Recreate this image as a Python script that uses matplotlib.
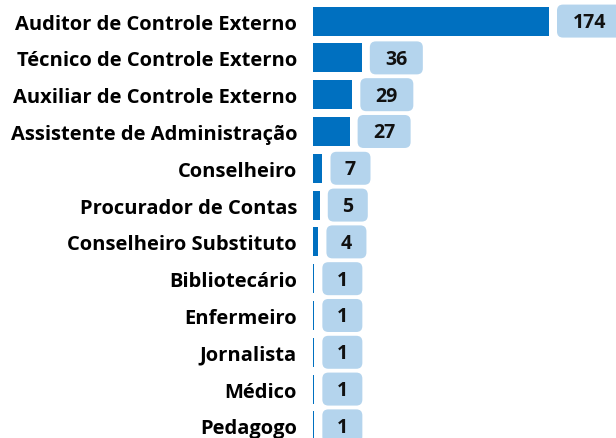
import matplotlib
matplotlib.use("Agg")
import matplotlib.pyplot as plt
import matplotlib.transforms as mtransforms
from matplotlib.patches import FancyBboxPatch

plt.rcParams["font.family"] = ["Open Sans", "DejaVu Sans"]

CARGOS = [
    "Auditor de Controle Externo",
    "Técnico de Controle Externo",
    "Auxiliar de Controle Externo",
    "Assistente de Administração",
    "Conselheiro",
    "Procurador de Contas",
    "Conselheiro Substituto",
    "Bibliotecário",
    "Enfermeiro",
    "Jornalista",
    "Médico",
    "Pedagogo",
]
QTD = [174, 36, 29, 27, 7, 5, 4, 1, 1, 1, 1, 1]

BAR_COLOR = "#0070c0"
BOX_COLOR = "#b4d4ed"

W, H, DPI = 616, 439, 100
fig = plt.figure(figsize=(W / DPI, H / DPI), dpi=DPI)

# eixo em pixels: começa em x=313, linhas a cada ~36.8 px (parte de baixo cortada)
left_px, top_px = 313, 0
row_px = 36.8
ymin, ymax = -0.6, 11.65
ax_h = (ymax - ymin) * row_px
ax = fig.add_axes([left_px / W, (H - top_px - ax_h) / H, (W - left_px) / W, ax_h / H])

px_per_unit = 236 / 174
ax.set_xlim(0, (W - left_px) / px_per_unit)
ax.set_ylim(ymax, ymin)

ys = list(range(len(CARGOS)))
ax.barh(ys, QTD, height=0.79, color=BAR_COLOR, edgecolor="none")

ax.set_yticks(ys)
ax.set_yticklabels(CARGOS, fontsize=14.5, fontweight="bold")
ax.tick_params(axis="y", length=0, pad=11.5)
ax.set_xticks([])
for s in ax.spines.values():
    s.set_visible(False)

# caixas arredondadas com os valores
for y, v in zip(ys, QTD):
    txt = str(v)
    w_in = (27 + 13 * len(txt)) / DPI
    h_in = 33 / DPI
    gap_in = 8 / DPI
    trans = fig.dpi_scale_trans + mtransforms.ScaledTranslation(v, y, ax.transData)
    box = FancyBboxPatch((gap_in, -h_in / 2), w_in, h_in,
                         boxstyle="round,pad=0,rounding_size=0.06",
                         facecolor=BOX_COLOR, edgecolor="none",
                         transform=trans, clip_on=False)
    ax.add_patch(box)
    ax.text(gap_in + w_in / 2, -0.01, txt, transform=trans, ha="center", va="center",
            fontsize=14, fontweight="bold", color="#111111", clip_on=False)

fig.savefig("out.png", dpi=DPI)
